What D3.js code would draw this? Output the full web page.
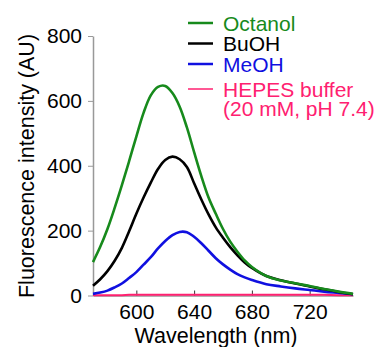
<!DOCTYPE html>
<html>
<head>
<meta charset="utf-8">
<script src="https://cdn.jsdelivr.net/npm/d3@7"></script>
<style>
  body { margin: 0; background: #fff; }
  svg { display: block; font-family: "Liberation Sans", Arial, sans-serif; }
</style>
</head>
<body>
<svg></svg>
<script>
var width = 380;
var height = 347;

// wavelengths (nm)
var wavelength = [570, 575, 580, 585, 590, 595, 600, 605, 610, 615, 620, 625, 630, 635, 640,
                  645, 650, 655, 660, 665, 670, 675, 680, 690, 700, 710, 720, 730, 740, 750];

var octanol = [103, 150, 205, 270, 340, 414, 490, 563, 617, 643, 646, 624, 582, 518, 442,
               368, 302, 252, 205, 166, 135, 108, 88, 60, 46, 38, 29, 20, 12, 5];
var buoh    = [30, 50, 75, 107, 147, 198, 252, 302, 348, 390, 418, 428, 420, 396, 346,
               296, 250, 210, 178, 149, 124, 102, 85, 60, 47, 37, 28, 19, 11, 4];
var meoh    = [5, 9, 15, 25, 37, 54, 72, 95, 118, 145, 168, 186, 196, 195, 181,
               161, 138, 115, 96, 80, 66, 56, 48, 35, 28, 22, 17, 12, 8, 4];
var hepes   = [1, 1, 1, 1, 1, 2, 2, 2, 2, 2, 2, 2, 2, 2, 2,
               2, 2, 2, 2, 2, 2, 2, 2, 2, 2, 2, 2, 2, 1, 1];

var seriesNames = ["Octanol", "BuOH", "MeOH", "HEPES buffer"];
var seriesColors = ["#178a1c", "#000000", "#1010e0", "#ff2070"];
var seriesData = [octanol, buoh, meoh, hepes];

var xTicks = [600, 640, 680, 720];
var yTicks = [0, 200, 400, 600, 800];

var svg = d3.select("svg")
    .attr("width", width)
    .attr("height", height);

var x = d3.scaleLinear().domain([570, 750]).range([93, 353]);
var y = d3.scaleLinear().domain([0, 800]).range([295.5, 36]);

var axisColor = "#999";

// axes
var gx = svg.append("g")
    .attr("transform", "translate(0," + y(0) + ")")
    .call(d3.axisBottom(x).tickValues(xTicks).tickSize(-5).tickPadding(10).tickSizeOuter(0));
gx.select(".domain").attr("stroke", axisColor).attr("stroke-width", 1.5);
gx.selectAll(".tick line").attr("stroke", "#333");
gx.selectAll("text").attr("font-size", 21).attr("fill", "#000").attr("dy", "0.75em")
    .attr("y", 8);

var gy = svg.append("g")
    .attr("transform", "translate(" + x(570) + ",0)")
    .call(d3.axisLeft(y).tickValues(yTicks).tickSize(5).tickPadding(6).tickSizeOuter(0));
gy.select(".domain").attr("stroke", axisColor).attr("stroke-width", 1.5);
gy.selectAll(".tick line").attr("stroke", axisColor);
gy.selectAll("text").attr("font-size", 21).attr("fill", "#000");

// lines
var line = d3.line()
    .x(function(d, i){ return x(wavelength[i]); })
    .y(function(d){ return y(d); })
    .curve(d3.curveCatmullRom.alpha(0.5));

svg.selectAll("path.series")
    .data(seriesData.slice().reverse())
    .enter()
    .append("path")
    .attr("class", "series")
    .attr("d", line)
    .attr("fill", "none")
    .attr("stroke", function(d, i){ return seriesColors[3 - i]; })
    .attr("stroke-width", function(d, i){ return i == 0 ? 2 : 2.6; });

// axis titles
svg.append("text")
    .attr("x", 216)
    .attr("y", 343)
    .attr("text-anchor", "middle")
    .attr("font-size", 21.5)
    .text("Wavelength (nm)");

svg.append("text")
    .attr("transform", "translate(34,166) rotate(-90)")
    .attr("text-anchor", "middle")
    .attr("font-size", 21.5)
    .text("Fluorescence intensity (AU)");

// legend
var legend = svg.append("g");
var rowY = [23, 43.5, 64, 89];
seriesNames.forEach(function(name, i){
  legend.append("line")
      .attr("x1", 188).attr("x2", 213)
      .attr("y1", rowY[i]).attr("y2", rowY[i])
      .attr("stroke", seriesColors[i])
      .attr("stroke-width", i == 3 ? 1.5 : 2.5);
  legend.append("text")
      .attr("x", 223)
      .attr("y", rowY[i] + 7.5)
      .attr("font-size", 21)
      .attr("fill", seriesColors[i])
      .text(name);
});
legend.append("text")
    .attr("x", 223)
    .attr("y", 108.5 + 7.5)
    .attr("font-size", 21)
    .attr("fill", seriesColors[3])
    .text("(20 mM, pH 7.4)");
</script>
</body>
</html>
